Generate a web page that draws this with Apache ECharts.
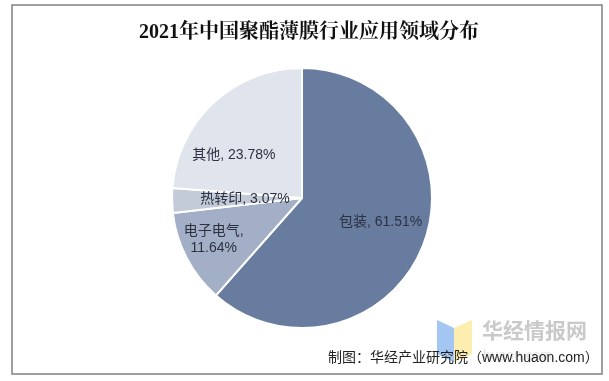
<!DOCTYPE html>
<html>
<head>
<meta charset="utf-8">
<style>
  html, body { margin: 0; padding: 0; background: #fff; }
  #chart { width: 609px; height: 381px; }
</style>
<script src="https://cdn.jsdelivr.net/npm/echarts@6/dist/echarts.min.js"></script>
</head>
<body>
<div id="chart"></div>
<script>
const titleText = "2021年中国聚酯薄膜行业应用领域分布";
const sourceText = "制图：华经产业研究院（www.huaon.com）";
const categories = ["包装", "电子电气", "热转印", "其他"];
const shares = [61.51, 11.64, 3.07, 23.78];
const sliceColors = ["#687ca0", "#a3afc6", "#c3cad8", "#e0e4ed"];
// nudges from the default inside spot, in pixels
const labelShift = [[15, 0], [-28, 10], [11, 0], [-22, 7]];

var chart = echarts.init(document.getElementById("chart"));
var sans = "'Liberation Sans', 'Noto Sans CJK SC', sans-serif";

var option = {
  animation: false,
  backgroundColor: "#fff",
  title: {
    text: titleText,
    left: 304,
    top: 18,
    textAlign: "center",
    textStyle: { fontFamily: "'Liberation Serif', 'Noto Serif CJK SC', 'Noto Sans CJK SC', serif", fontSize: 20, fontWeight: "bold", color: "#111" }
  },
  graphic: [
    { type: "rect", z: -1, shape: { x: 12, y: 5, width: 590, height: 369 }, style: { fill: "#fff", stroke: "#808080", lineWidth: 1.5 } },
    { type: "polygon", shape: { points: [[437, 320], [454, 328], [454, 362], [437, 354]] }, style: { fill: "#a3c6f3" } },
    { type: "polygon", shape: { points: [[454, 328], [472, 320], [472, 354], [454, 362]] }, style: { fill: "#fdeeb0" } },
    { type: "text", left: 482, top: 320, style: { text: "华经情报网", font: "bold 21px 'Noto Sans CJK SC'", fill: "#c9c9c9" } },
    { type: "text", left: 483, top: 349, style: { text: "huaon.com", font: "14px " + sans, fill: "#e4e4e4" } },
    { type: "text", left: 328, top: 351, z: 10, style: { text: sourceText, font: "14px " + sans, fill: "#222" } }
  ],
  series: [
    {
      type: "pie",
      center: [302, 198],
      radius: [0, 130],
      startAngle: 90,
      clockwise: true,
      silent: true,
      itemStyle: { borderColor: "#fff", borderWidth: 2 },
      label: {
        show: true,
        position: "inside",
        fontFamily: sans,
        fontSize: 14,
        color: "#2b3140",
        lineHeight: 17,
        formatter: function (p) {
          var txt = p.name + ", " + p.value.toFixed(2) + "%";
          return p.name === "电子电气" ? p.name + ",\n" + p.value.toFixed(2) + "%" : txt;
        }
      },
      labelLine: { show: false },
      labelLayout: function (params) {
        var s = labelShift[params.dataIndex];
        return { dx: s[0], dy: s[1] };
      },
      data: categories.map(function (name, i) {
        return { name: name, value: shares[i], itemStyle: { color: sliceColors[i] } };
      })
    }
  ]
};
chart.setOption(option);
</script>
</body>
</html>
